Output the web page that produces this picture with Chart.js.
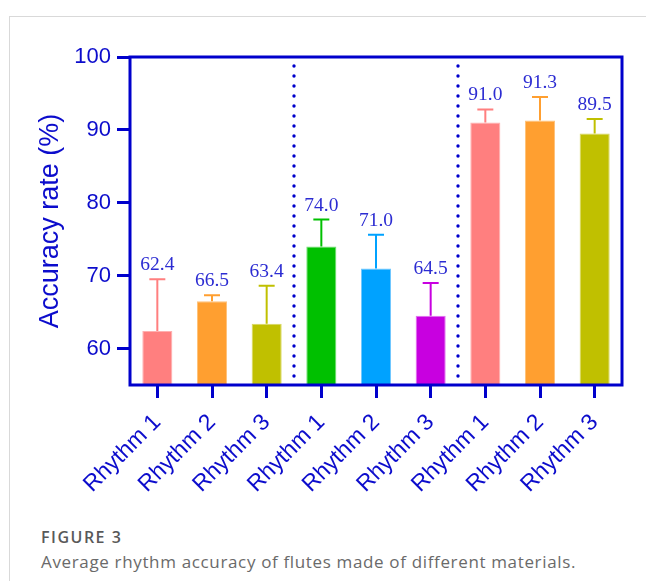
<!DOCTYPE html>
<html>
<head>
<meta charset="utf-8">
<script src="https://cdn.jsdelivr.net/npm/chart.js@4.4.0/dist/chart.umd.min.js"></script>
<style>
  body { margin: 0; background: #fff; width: 646px; height: 581px; overflow: hidden; position: relative; }
  #frame { position: absolute; left: 9px; top: 16px; right: 0; bottom: 0; border-left: 1px solid #d9d9d9; border-top: 1px solid #d9d9d9; }
  #wrap { position: absolute; left: 0; top: 0; width: 646px; height: 500px; }
  .cap { position: absolute; left: 41px; font-family: "Open Sans", "Noto Sans", sans-serif; white-space: nowrap; line-height: 1; }
</style>
</head>
<body>
<div id="frame"></div>
<div id="wrap"><canvas id="chart" width="646" height="500"></canvas></div>
<div class="cap" style="top:529px;font-size:16px;font-weight:600;letter-spacing:1.5px;color:#595959;">FIGURE 3</div>
<div class="cap" style="top:553px;font-size:17px;letter-spacing:0.65px;color:#6a6a6a;">Average rhythm accuracy of flutes made of different materials.</div>
<script>
const categories = ["Rhythm 1", "Rhythm 2", "Rhythm 3", "Rhythm 1", "Rhythm 2", "Rhythm 3", "Rhythm 1", "Rhythm 2", "Rhythm 3"];
const means = [62.4, 66.5, 63.4, 74.0, 71.0, 64.5, 91.0, 91.3, 89.5];
const errors = [7.1, 0.8, 5.2, 3.7, 4.6, 4.5, 1.8, 3.2, 2.0];
const barColors = ["#ff7f7f", "#ff9f30", "#c0c000", "#00c000", "#00a2ff", "#c800e0", "#ff7f7f", "#ff9f30", "#c0c000"];
const borderColors = ["#ffb0b0", "#ffc27a", "#d8d860", "#70e070", "#70c8ff", "#e070f0", "#ffb0b0", "#ffc27a", "#d8d860"];
const yTicks = [60, 70, 80, 90, 100];
const groupBreaks = [3, 6];

const axisBlue = "#0000cc";
Chart.defaults.font.family = '"Liberation Sans", Arial, sans-serif';

// error bars, value labels, dotted separators, box
const extras = {
    id: "extras",
    afterDatasetsDraw(chart) {
        const ctx = chart.ctx;
        const a = chart.chartArea;
        const x = chart.scales.x;
        const y = chart.scales.y;
        ctx.save();

        means.forEach((m, i) => {
            const px = x.getPixelForValue(i);
            const base = y.getPixelForValue(m);
            const top = y.getPixelForValue(m + errors[i]);
            ctx.strokeStyle = barColors[i];
            ctx.lineWidth = 2;
            ctx.beginPath();
            ctx.moveTo(px, base);
            ctx.lineTo(px, top);
            ctx.moveTo(px - 8, top);
            ctx.lineTo(px + 8, top);
            ctx.stroke();

            ctx.fillStyle = "#2c2cd2";
            ctx.font = '19.5px "Liberation Serif", "Times New Roman", serif';
            ctx.textAlign = "center";
            ctx.textBaseline = "alphabetic";
            ctx.fillText(m.toFixed(1), px, top - 9);
        });

        ctx.fillStyle = axisBlue;
        groupBreaks.forEach(b => {
            const sx = (x.getPixelForValue(b - 1) + x.getPixelForValue(b)) / 2;
            for (let yy = a.top + 9; yy < a.bottom - 2; yy += 10) {
                ctx.beginPath();
                ctx.arc(sx, yy, 1.7, 0, Math.PI * 2);
                ctx.fill();
            }
        });

        ctx.strokeStyle = axisBlue;
        ctx.lineWidth = 3;
        ctx.strokeRect(a.left, a.top, a.right - a.left, a.bottom - a.top);
        ctx.restore();
    }
};

new Chart(document.getElementById("chart"), {
    type: "bar",
    data: {
        labels: categories,
        datasets: [{
            data: means,
            backgroundColor: barColors,
            borderColor: borderColors,
            borderWidth: 1,
            barPercentage: 0.55,
            categoryPercentage: 1
        }]
    },
    options: {
        responsive: false,
        animation: false,
        layout: { padding: { top: 57, right: 24, left: 0, bottom: 0 } },
        plugins: { legend: { display: false }, tooltip: { enabled: false } },
        scales: {
            x: {
                grid: { offset: false, drawOnChartArea: false, color: axisBlue, lineWidth: 3, tickLength: 13 },
                border: { display: false },
                ticks: { color: "#0c0ccc", font: { size: 23 }, minRotation: 45, maxRotation: 45, padding: 11, autoSkip: false },
                afterFit(s) { s.height = 115; }
            },
            y: {
                min: 55,
                max: 100,
                afterBuildTicks(s) { s.ticks = yTicks.map(v => ({ value: v })); },
                grid: { drawOnChartArea: false, color: axisBlue, lineWidth: 3, tickLength: 13 },
                border: { display: false },
                ticks: { color: "#0c0ccc", font: { size: 22 }, padding: 6 },
                title: { display: true, text: "Accuracy rate (%)", color: "#0c0ccc", font: { size: 27 }, padding: { top: 34, bottom: 0 } },
                afterFit(s) { s.width = 130; }
            }
        }
    },
    plugins: [extras]
});
</script>
</body>
</html>
